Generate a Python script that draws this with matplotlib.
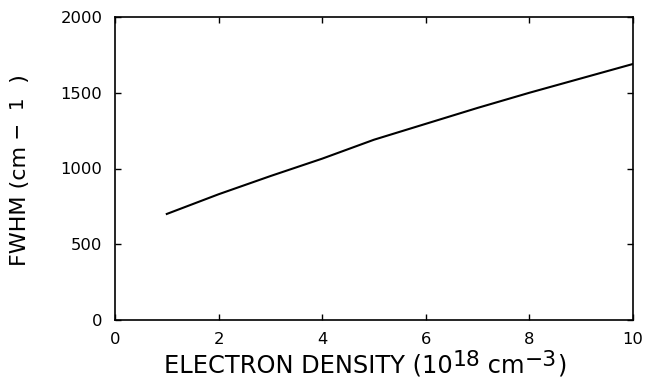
import numpy as np
from matplotlib import pyplot as plt

plt.rcParams['font.family'] = ['DejaVu Sans']

density = [1, 2, 3, 4, 5, 6, 7, 8, 9, 10]
fwhm = [700, 830, 950, 1065, 1190, 1295, 1400, 1500, 1595, 1690]

W, H = 647, 381
fig = plt.figure(figsize=(W / 100, H / 100), dpi=100)
ax = fig.add_axes([115 / W, 61 / H, 518 / W, 303 / H])

ax.plot(density, fwhm, color="black", linewidth=1.5)

ax.set_xlim(0, 10)
ax.set_ylim(0, 2000)
ax.set_xticks([0, 2, 4, 6, 8, 10])
ax.set_yticks([0, 500, 1000, 1500, 2000])
ax.tick_params(direction="in", top=True, right=True, length=4.5, width=1,
               labelsize=11.8, pad=9)
for s in ax.spines.values():
    s.set_linewidth(1.2)


def chain(pieces, x, y, fs, rot=0, lift=0.32):
    """Write label pieces one after another; sup pieces are raised."""
    if rot == 0:
        first = fig.text(x / W, 1 - y / H, pieces[0][0], fontsize=fs,
                         ha="left", va="baseline")
    else:
        first = fig.text(x / W, 1 - y / H, pieces[0][0], fontsize=fs,
                         ha="right", va="bottom", rotation=90)
    base, prev = first, first
    for txt, sup in pieces[1:]:
        size = fs * 0.9 if sup else fs
        if rot == 0:
            xy = (1, lift if sup else 0)
            t = ax.annotate(txt, xy=xy, xycoords=(prev, base), fontsize=size,
                            ha="left", va="bottom", annotation_clip=False)
        else:
            xy = (1 - lift if sup else 1, 1)
            t = ax.annotate(txt, xy=xy, xycoords=(base, prev), fontsize=size,
                            ha="right", va="bottom", rotation=90,
                            annotation_clip=False)
        prev = t
        if not sup:
            base = t


chain([("ELECTRON DENSITY (10", False), ("18", True), (" cm", False),
       ("\u22123", True), (")", False)], 164, 373, 17.4)
chain([("FWHM (cm", False), (" \u2212  1", True), ("  )", False)],
      30, 266, 16, rot=90, lift=0.12)

plt.savefig("out.png", dpi=100)
